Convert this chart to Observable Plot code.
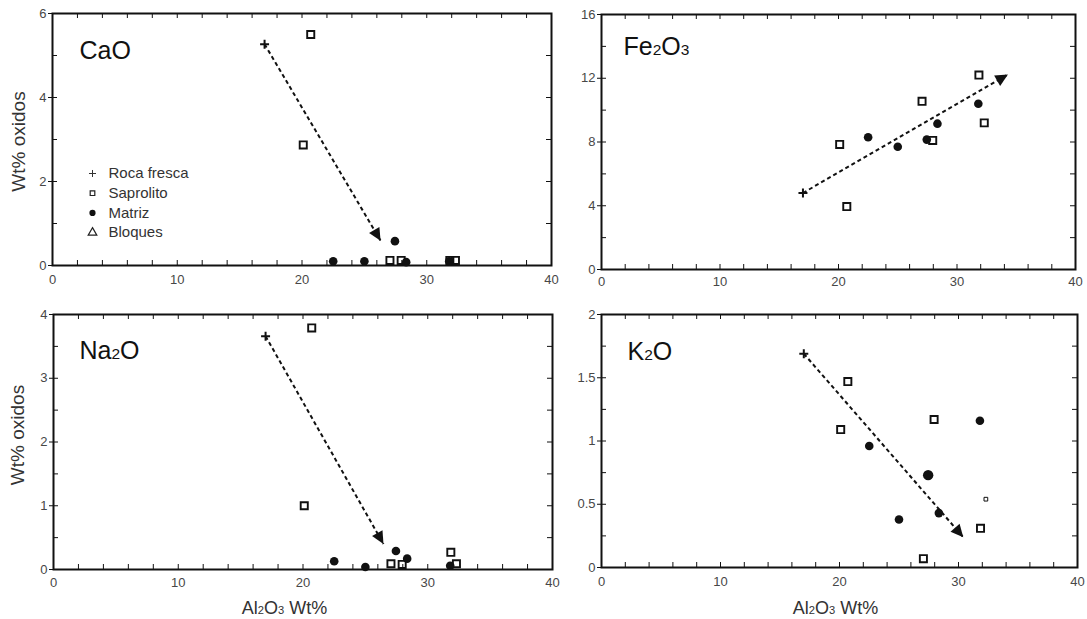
<!DOCTYPE html>
<html><head><meta charset="utf-8">
<script src="https://cdn.jsdelivr.net/npm/d3@7"></script>
<script src="https://cdn.jsdelivr.net/npm/@observablehq/plot@0.6"></script>
<style>
body{margin:0;background:#fff;}
#chart{position:relative;width:1087px;height:619px;font-family:"Liberation Sans",Arial,sans-serif;}
</style></head><body><div id="chart"></div>
<script>
// ---- data ----
const oxides = ["CaO", "Fe2O3", "Na2O", "K2O"];
const legendLabels = ["Roca fresca", "Saprolito", "Matriz", "Bloques"];
const xTickLabels = [0, 10, 20, 30, 40];
const xLabel = "Al2O3 Wt%";
const yLabel = "Wt% oxidos";
const yTicksCaO = [0, 2, 4, 6];
const yTicksFe2O3 = [0, 4, 8, 12, 16];
const yTicksNa2O = [0, 1, 2, 3, 4];
const yTicksK2O = [0, 0.5, 1, 1.5, 2];

const rocaAl2O3 = 17.0;
const rocaOxides = [5.27, 4.8, 3.66, 1.69]; // CaO, Fe2O3, Na2O, K2O

const saprolitoAl2O3 = [20.1, 20.7, 27.05, 27.95, 31.85, 32.3];
const saprolitoCaO   = [2.87, 5.5, 0.12, 0.12, 0.12, 0.12];
const saprolitoFe2O3 = [7.85, 3.95, 10.55, 8.1, 12.2, 9.2];
const saprolitoNa2O  = [1.0, 3.79, 0.09, 0.08, 0.27, 0.09];
const saprolitoK2O   = [1.09, 1.47, 0.07, 1.17, 0.31, 0.54];

const matrizAl2O3 = [22.5, 25.0, 27.45, 28.35, 31.8];
const matrizCaO   = [0.1, 0.1, 0.58, 0.08, 0.1];
const matrizFe2O3 = [8.3, 7.7, 8.15, 9.15, 10.4];
const matrizNa2O  = [0.13, 0.04, 0.29, 0.17, 0.06];
const matrizK2O   = [0.96, 0.38, 0.73, 0.43, 1.16];

// trend arrow end points (Al2O3, oxide)
const trendEndAl2O3 = [26.3, 34.3, 26.45, 30.4];
const trendEndOxide = [0.59, 12.24, 0.40, 0.24];

// ---- drawing ----
const saprolitoValues = [saprolitoCaO, saprolitoFe2O3, saprolitoNa2O, saprolitoK2O];
const matrizValues = [matrizCaO, matrizFe2O3, matrizNa2O, matrizK2O];
const yTickSets = [yTicksCaO, yTicksFe2O3, yTicksNa2O, yTicksK2O];
const ink = "#111";
const font = "'Liberation Sans', Arial, sans-serif";

const arrowHead = {draw(ctx) { ctx.moveTo(0, 0); ctx.lineTo(-6, 12.5); ctx.lineTo(6, 12.5); ctx.closePath(); }};

const panels = [
  {left: 0,   top: 0,   width: 560, height: 300, ml: 52, mr: 9,  mt: 13, mb: 35, yMinor: 1,    xPad: 9, title: [27, 45], ylabel: [-34, 2], legend: true},
  {left: 545, top: 0,   width: 542, height: 300, ml: 56, mr: 12, mt: 14, mb: 31, yMinor: 2,    xPad: 7, title: [22, 40]},
  {left: 0,   top: 300, width: 560, height: 319, ml: 53, mr: 8,  mt: 14, mb: 50, yMinor: 0.5,  xPad: 8, title: [26, 44], ylabel: [-35.5, -7], xlabel: [-18.5, 39]},
  {left: 545, top: 300, width: 542, height: 319, ml: 56, mr: 10, mt: 14, mb: 52, yMinor: 0.25, xPad: 9, title: [26, 45], xlabel: [-4, 41]}
];
// special marker sizes in the K2O panel
const matrizR = (pi, k) => (pi === 3 && k === 2 ? 5.2 : 4.3);
const saprolitoR = (pi, k) => (pi === 3 && k === 5 ? 2.1 : 4);

function build(pi, angle) {
  const p = panels[pi];
  const yTicks = yTickSets[pi];
  const yMax = yTicks[yTicks.length - 1];
  const innerW = p.width - p.ml - p.mr, innerH = p.height - p.mt - p.mb;
  const xMinor = d3.range(0, 40.001, 2);
  const yMinor = d3.range(0, yMax + 1e-9, p.yMinor);
  const sapIdx = d3.range(saprolitoAl2O3.length);
  const matIdx = d3.range(matrizAl2O3.length);
  const sapV = saprolitoValues[pi], matV = matrizValues[pi];
  const marks = [
    Plot.tickX(xMinor, {x: d => d, insetTop: innerH - 5, stroke: ink, strokeWidth: 1}),
    Plot.tickX(xMinor, {x: d => d, insetBottom: innerH - 5, stroke: ink, strokeWidth: 1}),
    Plot.tickY(yMinor, {y: d => d, insetRight: innerW - 5, stroke: ink, strokeWidth: 1}),
    Plot.tickY(yMinor, {y: d => d, insetLeft: innerW - 5, stroke: ink, strokeWidth: 1}),
    Plot.axisX({ticks: xTickLabels, tickFormat: d => `${d}`, tickSize: 0, tickPadding: p.xPad, fontSize: 13, fill: "#474747", label: null}),
    Plot.axisY({ticks: yTicks, tickFormat: d => `${d}`, tickSize: 4, tickPadding: 2, fontSize: 13, fill: "#474747", stroke: ink, label: null}),
    Plot.frame({stroke: ink, strokeWidth: 2}),
    Plot.link([0], {x1: [rocaAl2O3], y1: [rocaOxides[pi]], x2: [trendEndAl2O3[pi]], y2: [trendEndOxide[pi]], stroke: ink, strokeWidth: 2, strokeDasharray: "4,3"}),
    Plot.dot([0], {x: [trendEndAl2O3[pi]], y: [trendEndOxide[pi]], symbol: arrowHead, rotate: angle, fill: ink, stroke: "none"})
  ];
  sapIdx.forEach(k => marks.push(Plot.dot([k], {x: d => saprolitoAl2O3[d], y: d => sapV[d], symbol: "square", r: saprolitoR(pi, k), stroke: ink, strokeWidth: saprolitoR(pi, k) < 3 ? 1 : 1.9, fill: "none"})));
  matIdx.forEach(k => marks.push(Plot.dot([k], {x: d => matrizAl2O3[d], y: d => matV[d], symbol: "circle", r: matrizR(pi, k), fill: ink, stroke: "none"})));
  marks.push(Plot.dot([0], {x: [rocaAl2O3], y: [rocaOxides[pi]], symbol: "plus", r: 3, stroke: ink, strokeWidth: 2}));
  marks.push(Plot.text([oxides[pi]], {frameAnchor: "top-left", dx: p.title[0], dy: p.title[1], text: d => d, fontSize: 25, textAnchor: "start", lineAnchor: "bottom", fill: ink}));
  if (p.ylabel) marks.push(Plot.text([yLabel], {frameAnchor: "left", dx: p.ylabel[0], dy: p.ylabel[1], rotate: -90, text: d => d, fontSize: 19, textAnchor: "middle", lineAnchor: "middle", fill: "#333"}));
  if (p.xlabel) marks.push(Plot.text([xLabel], {frameAnchor: "bottom", dx: p.xlabel[0], dy: p.xlabel[1], text: d => d, fontSize: 18, textAnchor: "middle", lineAnchor: "middle", fill: "#333"}));
  if (p.legend) {
    const legendSymbols = ["plus", "square", "circle", "triangle"];
    const legendStyle = [
      {r: 2.4, stroke: "#333", strokeWidth: 1, fill: "none"},
      {r: 2.6, stroke: "#222", strokeWidth: 1.2, fill: "none"},
      {r: 3.1, fill: ink, stroke: "none"},
      {r: 3.2, stroke: "#222", strokeWidth: 1.2, fill: "none"}
    ];
    legendLabels.forEach((lab, k) => {
      const dy = 160 + k * 19.7;
      marks.push(Plot.dot([0], {frameAnchor: "top-left", dx: 40, dy, symbol: legendSymbols[k], ...legendStyle[k]}));
      marks.push(Plot.text([lab], {frameAnchor: "top-left", dx: 56, dy, text: d => d, fontSize: 15, textAnchor: "start", lineAnchor: "middle", fill: "#333"}));
    });
  }
  return Plot.plot({
    width: p.width, height: p.height,
    marginLeft: p.ml, marginRight: p.mr, marginTop: p.mt, marginBottom: p.mb,
    x: {domain: [0, 40]},
    y: {domain: [0, yMax]},
    style: {fontFamily: font, fontSize: "13px", color: ink, background: "transparent", position: "absolute", left: p.left + "px", top: p.top + "px", overflow: "visible"},
    marks
  });
}

function subscripts(svg) {
  d3.select(svg).selectAll("text").each(function () {
    const t = this.textContent;
    if (this.childElementCount === 0 && /[A-Za-z]\d/.test(t)) {
      this.textContent = "";
      t.split(/(\d)/).forEach(part => {
        if (!part) return;
        const ts = document.createElementNS("http://www.w3.org/2000/svg", "tspan");
        if (/^\d$/.test(part)) ts.setAttribute("style", "font-size:0.62em");
        ts.textContent = part;
        this.appendChild(ts);
      });
    }
  });
}

const chart = document.getElementById("chart");
panels.forEach((p, pi) => {
  const probe = build(pi, 0);
  const sx = probe.scale("x"), sy = probe.scale("y");
  const ux = sx.apply(trendEndAl2O3[pi]) - sx.apply(rocaAl2O3);
  const uy = sy.apply(trendEndOxide[pi]) - sy.apply(rocaOxides[pi]);
  const angle = Math.atan2(ux, -uy) * 180 / Math.PI;
  const svg = build(pi, angle);
  subscripts(svg);
  chart.appendChild(svg);
});
</script></body></html>
